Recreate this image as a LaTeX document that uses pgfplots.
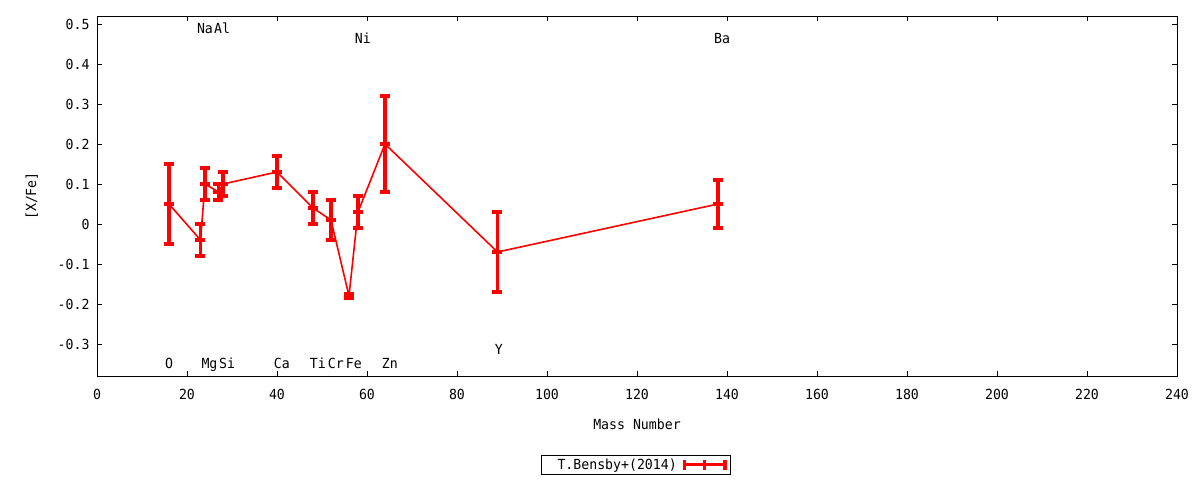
\documentclass[border=0pt]{standalone}
\usepackage{fontspec}
\setmainfont{DejaVu Sans Mono}[FakeStretch=0.95]
\usepackage{pgfplots}
\pgfplotsset{compat=1.18}
\usepackage{pgfplotstable}
\newcommand{\fs}{\fontsize{13.9bp}{16bp}\selectfont}
\pgfplotstableread{
x y e
16 0.05 0.10
23 -0.04 0.04
24 0.10 0.04
27 0.08 0.02
28 0.10 0.03
40 0.13 0.04
48 0.04 0.04
52 0.01 0.05
56 -0.18 0.005
58 0.03 0.04
64 0.20 0.12
89 -0.07 0.10
138 0.05 0.06
}\bensby
\begin{document}
\begin{tikzpicture}[el/.style={font=\fs, text height=1.6ex, text depth=0.3ex}]
\path[use as bounding box] (-97bp,-104bp) rectangle (1103bp,376bp);
\begin{axis}[
  at={(0,0)}, anchor=south west,
  scale only axis, width=1080bp, height=360bp,
  xmin=0, xmax=240, ymin=-0.38, ymax=0.52,
  xtick={0,20,...,240},
  ytick={-0.3,-0.2,-0.1,0,0.1,0.2,0.3,0.4,0.5},
  tick align=inside, xtick pos=both, ytick pos=both,
  major tick length=5bp,
  axis line style={line width=0.9bp},
  every tick/.style={black, line width=0.9bp},
  /pgf/number format/assume math mode=true,
  /pgf/number format/fixed,
  /pgf/number format/precision=1,
  tick label style={font=\fs},
  xticklabel style={yshift=-10bp},
  yticklabel style={xshift=-4bp},
  xlabel={Mass Number}, ylabel={[X/Fe]},
  label style={font=\fs},
  xlabel style={yshift=-12bp},
  ylabel style={yshift=13bp},
  legend style={at={(0.499,-0.246)}, anchor=center, font=\fs,
    draw=black, line width=0.8bp, inner xsep=2bp, inner ysep=1.5bp,
    nodes={inner xsep=4bp}},
  legend plot pos=right,
  legend cell align=left,
  legend image code/.code={
    \draw[red, line width=3.5bp] (0,0) -- (44bp,0);
    \draw[red, line width=3.5bp] (1.75bp,-5bp) -- (1.75bp,5bp);
    \draw[red, line width=3.5bp] (22bp,-5bp) -- (22bp,5bp);
    \draw[red, line width=3.5bp] (42.25bp,-5bp) -- (42.25bp,5bp);
  },
  clip=false,
]
\addplot[red, line width=1.6bp, mark=-, mark size=5bp,
  mark options={line width=3.5bp, solid},
  error bars/.cd, y dir=both, y explicit,
  error bar style={line width=3.5bp, red},
  error mark options={line width=3.5bp, red, mark size=5bp, rotate=90},
] table[x=x, y=y, y error=e] {\bensby};
\addlegendentry{\hspace{10bp}T.Bensby+(2014)\hspace{3bp}}
\node[el] at (axis cs:24,0.485) {Na};
\node[el] at (axis cs:27.8,0.485) {Al};
\node[el] at (axis cs:59.1,0.46) {Ni};
\node[el] at (axis cs:138.9,0.46) {Ba};
\node[el] at (axis cs:16,-0.3525) {O};
\node[el] at (axis cs:25,-0.3525) {Mg};
\node[el] at (axis cs:28.9,-0.3525) {Si};
\node[el] at (axis cs:41.1,-0.3525) {Ca};
\node[el] at (axis cs:49.1,-0.3525) {Ti};
\node[el] at (axis cs:53.1,-0.3525) {Cr};
\node[el] at (axis cs:57.1,-0.3525) {Fe};
\node[el] at (axis cs:65.1,-0.3525) {Zn};
\node[el] at (axis cs:89.3,-0.3175) {Y};
\end{axis}
\end{tikzpicture}
\end{document}
